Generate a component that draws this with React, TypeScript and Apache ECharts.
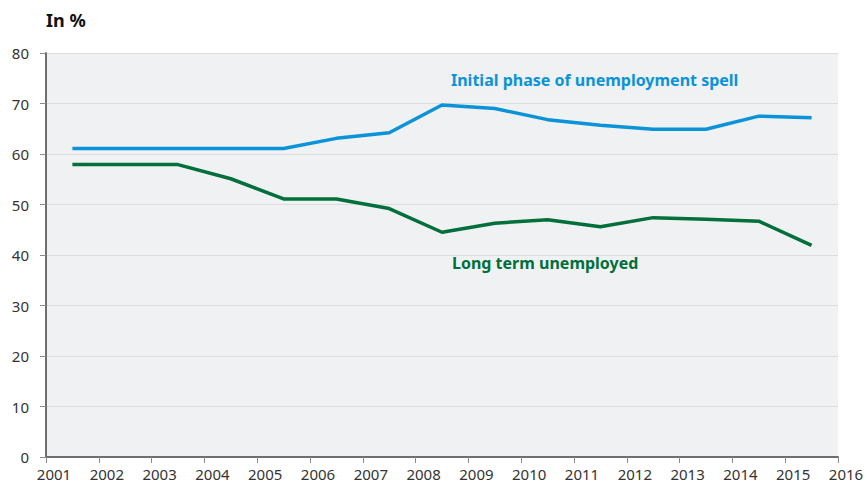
import React, { useEffect, useRef } from "react";
import * as echarts from "echarts";

const years = [2001.5, 2002.5, 2003.5, 2004.5, 2005.5, 2006.5, 2007.5, 2008.5, 2009.5, 2010.5, 2011.5, 2012.5, 2013.5, 2014.5, 2015.5];
const initialPhase = [61.1, 61.1, 61.1, 61.1, 61.1, 63.1, 64.2, 69.7, 69.0, 66.8, 65.7, 64.9, 64.9, 67.5, 67.2];
const longTerm = [57.9, 57.9, 57.9, 55.1, 51.1, 51.1, 49.2, 44.5, 46.3, 47.0, 45.6, 47.4, 47.1, 46.7, 41.9];
const seriesNames = ["Initial phase of unemployment spell", "Long term unemployed"];
const yUnit = "In %";

const BLUE = "#0a93d8";
const GREEN = "#006f3b";
const FONT = "'Noto Sans', 'Open Sans', sans-serif";

export default function App() {
  const ref = useRef<HTMLDivElement>(null);
  useEffect(() => {
    if (!ref.current) return;
    const chart = echarts.init(ref.current, null, { renderer: "svg" });
    chart.setOption({
      animation: false,
      grid: { left: 46, right: 29, top: 53, bottom: 26, show: true, backgroundColor: "#f0f1f3", borderWidth: 0 },
      xAxis: {
        type: "value",
        min: 2001,
        max: 2016,
        interval: 1,
        axisLine: { show: true, lineStyle: { color: "#6e6e6e", width: 2 } },
        axisTick: { show: true, length: 6, lineStyle: { color: "#8a8a8a", width: 1 } },
        axisLabel: {
          color: "#333",
          fontSize: 15,
          fontFamily: FONT,
          margin: 9,
          padding: [0, 0, 0, 16],
          formatter: (v: number) => String(v),
          showMinLabel: true,
          showMaxLabel: true,
        },
        splitLine: { show: false },
      },
      yAxis: {
        type: "value",
        min: 0,
        max: 80,
        interval: 10,
        axisLine: { show: true, lineStyle: { color: "#6e6e6e", width: 2 } },
        axisTick: { show: true, length: 6, lineStyle: { color: "#8a8a8a", width: 1 } },
        axisLabel: { color: "#333", fontSize: 15, fontFamily: FONT, margin: 17 },
        splitLine: { show: true, lineStyle: { color: "#dcdde0", width: 1 } },
      },
      graphic: [
        {
          type: "text",
          left: 46,
          top: 11,
          style: { text: yUnit, fill: "#111", font: `bold 18px ${FONT}` },
        },
        {
          type: "text",
          left: 451,
          top: 72,
          style: { text: seriesNames[0], fill: BLUE, font: `bold 16px ${FONT}` },
        },
        {
          type: "text",
          left: 452,
          top: 255,
          style: { text: seriesNames[1], fill: GREEN, font: `bold 16px ${FONT}` },
        },
      ],
      series: [
        {
          name: seriesNames[0],
          type: "line",
          data: years.map((x, i) => [x, initialPhase[i]]),
          showSymbol: false,
          lineStyle: { color: BLUE, width: 3.5 },
          itemStyle: { color: BLUE },
        },
        {
          name: seriesNames[1],
          type: "line",
          data: years.map((x, i) => [x, longTerm[i]]),
          showSymbol: false,
          lineStyle: { color: GREEN, width: 3.5 },
          itemStyle: { color: GREEN },
        },
      ],
    });
    return () => chart.dispose();
  }, []);
  return <div ref={ref} style={{ position: "absolute", left: 0, top: 0, width: 867, height: 483 }} />;
}
